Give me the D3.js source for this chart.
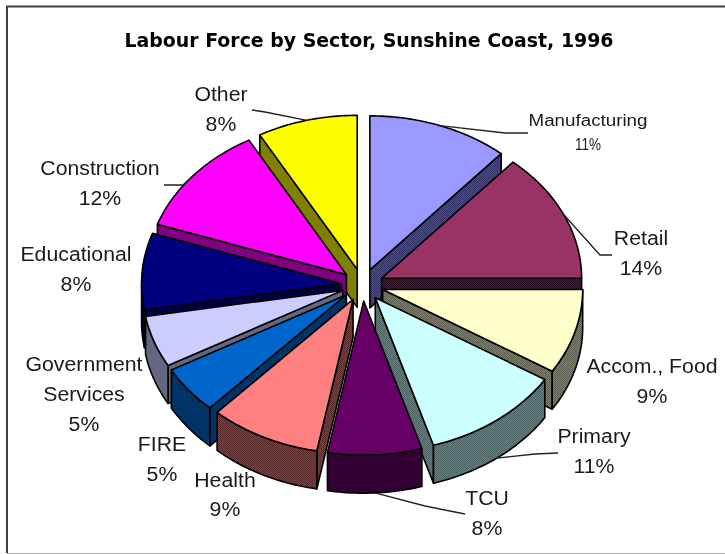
<!DOCTYPE html>
<html><head><meta charset="utf-8">
<script src="https://d3js.org/d3.v7.min.js"></script>
<style>html,body{margin:0;padding:0;background:#fff}svg{display:block}</style>
</head><body><div id="chart"></div>
<script>
// ---- data ----
const title = "Labour Force by Sector, Sunshine Coast, 1996";
const sectors = ["Manufacturing","Retail","Accom., Food","Primary","TCU","Health","FIRE","Government Services","Educational","Construction","Other"];
const shares = [11.4,13.6,8.9,11.4,7.6,9,5,5.4,8,11.6,8.1];
const topColors = ["#9999ff","#993366","#ffffcc","#ccffff","#660066","#ff8080","#0066cc","#ccccff","#000080","#ff00ff","#ffff00"];
const wallColors = ["#4d4d80","#4d1a33","#808066","#668080","#330033","#804040","#003366","#666680","#000040","#800080","#808000"];
const wallDotColors = ["#33336a","#2a0a20","#5f5f50","#4c6464",null,"#5a2a2a",null,null,null,null,null];

// ---- layout ----
const W = 725, H = 554;
const cx = 362.5, cy = 285, rx = 200, ry = 154, depth = 38, explode = 0.105;
const textStretch = 1.09;
const labelLayout = [
  {x:588,y:[126,150],size:16,widths:[119,26]},
  {x:641,y:[245,275]},
  {x:652,y:[373,403]},
  {x:594,y:[443,473]},
  {x:487,y:[505,535]},
  {x:225,y:[487,516]},
  {x:162,y:[451,481]},
  {x:84,y:[371,401,431]},
  {x:76,y:[261,291]},
  {x:100,y:[175,205]},
  {x:221,y:[101,131]}
];
// leader elbow and end points (null = no leader line)
const leaderLayout = [
  [[505,133],[528,133]],
  [[600,255],[612,255]],
  null,
  [[535,454],[558,453]],
  [[425,506],[465,514]],
  null, null, null, null,
  [[183,185],[164,185]],
  [[265,112],[252,110]]
];

const sx = d3.scaleLinear().domain([-1,1]).range([cx-rx,cx+rx]);
const sy = d3.scaleLinear().domain([-1,1]).range([cy+ry,cy-ry]);
const pie = d3.pie().sort(null).value(d=>d).startAngle(0).endAngle(2*Math.PI);
const arcs = pie(shares);
const line = d3.line().curve(d3.curveLinear);

const svg = d3.select("#chart").append("svg").attr("width",W).attr("height",H);
const defs = svg.append("defs");
svg.append("rect").attr("width",W).attr("height",H).attr("fill","#fff");

// frame
svg.append("path").attr("d",`M725,6.5H7V553`).attr("fill","none").attr("stroke","#404040").attr("stroke-width",2);
svg.append("path").attr("d",`M7,553.5H725`).attr("fill","none").attr("stroke","#b0b0b0").attr("stroke-width",1);

svg.append("text").attr("x",369).attr("y",47).attr("text-anchor","middle")
  .attr("font-family","'DejaVu Sans',sans-serif").attr("font-weight","bold").attr("font-size",19)
  .attr("textLength",489).attr("lengthAdjust","spacingAndGlyphs").attr("fill","#000").text(title);

// dithered wall fills
wallColors.forEach((c,i)=>{
  const p = defs.append("pattern").attr("id","w"+i).attr("patternUnits","userSpaceOnUse").attr("width",2).attr("height",2);
  p.append("rect").attr("width",2).attr("height",2).attr("fill",c);
  if(wallDotColors[i]){
    p.append("rect").attr("width",1).attr("height",1).attr("fill",wallDotColors[i]);
    p.append("rect").attr("x",1).attr("y",1).attr("width",1).attr("height",1).attr("fill",wallDotColors[i]);
  }
});

function polar(d,a,r,dz){
  const m=(d.startAngle+d.endAngle)/2;
  const ux=explode*Math.sin(m)+r*Math.sin(a), uy=explode*Math.cos(m)+r*Math.cos(a);
  return [sx(ux), sy(uy)+(dz||0)];
}
function arcPoints(d,a0,a1,dz){
  const n=Math.max(2,Math.ceil((a1-a0)/0.02));
  return d3.range(n+1).map(k=>polar(d,a0+(a1-a0)*k/n,1,dz));
}

const order = arcs.map((d,i)=>({d,i})).sort((p,q)=>
  Math.cos((q.d.startAngle+q.d.endAngle)/2)<Math.cos((p.d.startAngle+p.d.endAngle)/2)?-1:1);

const slices = svg.append("g").attr("stroke","#000").attr("stroke-width",1.6).attr("stroke-linejoin","round");
order.forEach(({d,i})=>{
  const g = slices.append("g");
  const wall = "url(#w"+i+")";
  const apex=polar(d,0,0,0), apexD=polar(d,0,0,depth);
  // only the cut faces that turn towards the viewer are drawn
  const faces=[];
  if(Math.sin(d.startAngle)<-1e-6) faces.push(d.startAngle);
  if(Math.sin(d.endAngle)>1e-6) faces.push(d.endAngle);
  faces.forEach(a=>{
    const e=polar(d,a,1,0), eD=polar(d,a,1,depth);
    g.append("path").attr("d",line([apex,e,eD,apexD])+"Z").attr("fill",wall);
  });
  const lo=Math.max(d.startAngle,Math.PI/2), hi=Math.min(d.endAngle,3*Math.PI/2);
  if(hi>lo){
    const a=arcPoints(d,lo,hi,0), b=arcPoints(d,lo,hi,depth).reverse();
    g.append("path").attr("d",line(a.concat(b))+"Z").attr("fill",wall);
  }
  const top=[apex].concat(arcPoints(d,d.startAngle,d.endAngle,0));
  g.append("path").attr("d",line(top)+"Z").attr("fill",topColors[i]);
});

// leaders
arcs.forEach((d,i)=>{
  if(!leaderLayout[i]) return;
  const m=(d.startAngle+d.endAngle)/2;
  const front=Math.cos(m)<0;
  const start=polar(d,m,1,front?depth:0);
  svg.append("path").attr("d",line([start].concat(leaderLayout[i])))
    .attr("fill","none").attr("stroke","#222").attr("stroke-width",1.3);
});

// labels
const fmt = v=>d3.format(".0f")(v)+"%";
sectors.forEach((name,i)=>{
  const L=labelLayout[i];
  const lines = (name==="Government Services"?["Government","Services"]:[name]).concat([fmt(shares[i])]);
  lines.forEach((t,k)=>{
    const txt=svg.append("text").attr("x",L.x).attr("y",L.y[k]).attr("text-anchor","middle")
      .attr("font-family","'Liberation Sans',Arial,sans-serif").attr("font-size",L.size||19.5)
      .attr("fill","#1a1a1a").text(t);
    const target = L.widths ? L.widths[k] : txt.node().getComputedTextLength()*textStretch;
    txt.attr("textLength",target).attr("lengthAdjust","spacingAndGlyphs");
  });
});
svg.style("filter","blur(0.35px)");
</script></body></html>
